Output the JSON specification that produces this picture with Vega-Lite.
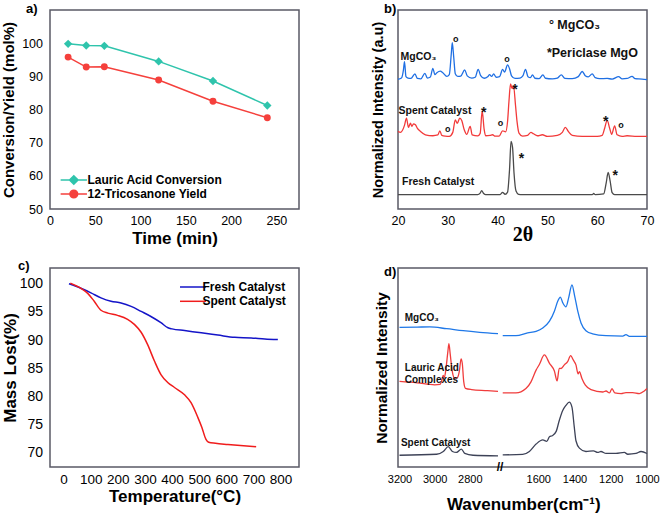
{
  "$schema": "https://vega.github.io/schema/vega-lite/v6.json",
  "autosize": {"type": "pad"},
  "padding": {"left": 0, "top": 2, "right": 2, "bottom": 2},
  "background": "white",
  "columns": 2,
  "bounds": "flush",
  "spacing": {"row": 59, "column": 99},
  "resolve": {"scale": {"color": "independent"}, "legend": {"color": "independent"}},
  "config": {
    "font": "Liberation Sans",
    "view": {"stroke": "#5a5a66", "strokeWidth": 1.5},
    "axis": {"domain": false, "grid": false, "tickWidth": 1, "ticks": true, "tickColor": "transparent", "labelColor": "#000000", "titleColor": "#000000", "titleFontWeight": "bold", "labelFont": "Liberation Sans", "titleFont": "Liberation Sans", "labelOverlap": false, "labelFlush": false},
    "tick": {"opacity": 1, "color": "#5a5a66"},
    "title": {"color": "#000000", "font": "Liberation Sans"}
  },
  "concat": [
    {
      "width": 249, "height": 199,
      "title": {"text": "a)", "anchor": "start", "frame": "group", "dx": -24, "dy": 6, "offset": 0, "fontSize": 13, "fontWeight": "bold"},
      "encoding": {
        "x": {"field": "time", "type": "quantitative", "scale": {"domain": [0, 275], "nice": false, "zero": false},
          "axis": {"title": "Time (min)", "values": [0,50,100,150,200,250],
            "tickSize": 4.5, "labelFontSize": 12.5, "labelPadding": 1, "titleFontSize": 17, "titlePadding": 3}},
        "y": {"field": "value", "type": "quantitative", "scale": {"domain": [50, 110], "nice": false, "zero": false},
          "axis": {"title": "Conversion/Yield (mol%)", "values": [50,60,70,80,90,100],
            "tickSize": 4.5, "labelFontSize": 12.5, "labelPadding": 3, "titleFontSize": 15, "titlePadding": 5}}
      },
      "layer": [
        {"data": {"values": [{"time": 0}, {"time": 50}, {"time": 100}, {"time": 150}, {"time": 200}, {"time": 250}]},
          "mark": {"type": "tick", "orient": "vertical", "size": 4.5, "thickness": 1, "yOffset": 2.25},
          "encoding": {"y": {"datum": 50, "type": "quantitative"}}},
        {"data": {"values": [{"time": 25}, {"time": 75}, {"time": 125}, {"time": 175}, {"time": 225}, {"time": 275}]},
          "mark": {"type": "tick", "orient": "vertical", "size": 2.5, "thickness": 1, "yOffset": 1.25},
          "encoding": {"y": {"datum": 50, "type": "quantitative"}}},
        {"data": {"values": [{"value": 50}, {"value": 60}, {"value": 70}, {"value": 80}, {"value": 90}, {"value": 100}]},
          "mark": {"type": "tick", "orient": "horizontal", "size": 4.5, "thickness": 1, "xOffset": -2.25},
          "encoding": {"x": {"datum": 0, "type": "quantitative"}}},
        {"data": {"values": [{"value": 55}, {"value": 65}, {"value": 75}, {"value": 85}, {"value": 95}, {"value": 105}]},
          "mark": {"type": "tick", "orient": "horizontal", "size": 2.5, "thickness": 1, "xOffset": -1.25},
          "encoding": {"x": {"datum": 0, "type": "quantitative"}}},
        {"data": {"values": [
          {"time": 20, "value": 99.8, "series": "Lauric Acid Conversion"},
          {"time": 40, "value": 99.3, "series": "Lauric Acid Conversion"},
          {"time": 60, "value": 99.2, "series": "Lauric Acid Conversion"},
          {"time": 120, "value": 94.5, "series": "Lauric Acid Conversion"},
          {"time": 180, "value": 88.6, "series": "Lauric Acid Conversion"},
          {"time": 240, "value": 81.2, "series": "Lauric Acid Conversion"},
          {"time": 20, "value": 95.8, "series": "12-Tricosanone Yield"},
          {"time": 40, "value": 92.8, "series": "12-Tricosanone Yield"},
          {"time": 60, "value": 92.9, "series": "12-Tricosanone Yield"},
          {"time": 120, "value": 88.9, "series": "12-Tricosanone Yield"},
          {"time": 180, "value": 82.5, "series": "12-Tricosanone Yield"},
          {"time": 240, "value": 77.5, "series": "12-Tricosanone Yield"}
        ]},
          "layer": [
            {"mark": {"type": "line", "strokeWidth": 1.5},
              "encoding": {"color": {"field": "series", "type": "nominal",
                "scale": {"domain": ["Lauric Acid Conversion", "12-Tricosanone Yield"], "range": ["#2fc4ac", "#f5403c"]},
                "legend": {"title": null, "orient": "none", "legendX": 17.8, "legendY": 164, "padding": 0,
                  "symbolType": "M-3.4,0H3.4M1,0A1,1,0,1,1,-1,0A1,1,0,1,1,1,0Z", "symbolSize": 60, "symbolStrokeWidth": 1.5,
                  "labelFontSize": 12, "labelFontWeight": "bold", "labelColor": "#000000", "labelOffset": 7.7, "rowPadding": -2.4,
                  "encoding": {"symbols": {
                    "shape": {"condition": {"test": "datum.value === 'Lauric Acid Conversion'", "value": "M-3.4,0H3.4M0,-1.1L1.1,0L0,1.1L-1.1,0Z"}, "value": "M-3.4,0H3.4M1,0A1,1,0,1,1,-1,0A1,1,0,1,1,1,0Z"},
                    "fill": {"condition": {"test": "datum.value === 'Lauric Acid Conversion'", "value": "#2fc4ac"}, "value": "#f5403c"},
                    "fillOpacity": {"value": 1}
                  }}}}}
            },
            {"transform": [{"filter": "datum.series === 'Lauric Acid Conversion'"}],
              "mark": {"type": "point", "shape": "diamond", "size": 70, "filled": true, "opacity": 1, "color": "#2fc4ac"}},
            {"transform": [{"filter": "datum.series === '12-Tricosanone Yield'"}],
              "mark": {"type": "point", "shape": "circle", "size": 48, "filled": true, "opacity": 1, "color": "#f5403c"}}
          ]
        }
      ]
    },
    {
      "width": 249, "height": 199,
      "title": {"text": "b)", "anchor": "start", "frame": "group", "dx": -14, "dy": 6, "offset": 0, "fontSize": 13, "fontWeight": "bold"},
      "encoding": {
        "x": {"field": "theta", "type": "quantitative", "scale": {"domain": [20, 70], "nice": false, "zero": false},
          "axis": {"title": "2θ", "values": [20,30,40,50,60,70],
            "tickSize": 4.5, "labelFontSize": 12.5, "labelPadding": 1, "titleFont": "Liberation Serif", "titleFontSize": 20, "titlePadding": -3}},
        "y": {"field": "intensity", "type": "quantitative", "scale": {"domain": [0, 100], "nice": false, "zero": false},
          "axis": {"title": "Normalized Intensity (a.u)", "ticks": false, "labels": false, "titleFontSize": 14.5, "titlePadding": 13}}
      },
      "layer": [
        {"data": {"values": [{"theta": 20}, {"theta": 30}, {"theta": 40}, {"theta": 50}, {"theta": 60}, {"theta": 70}]},
          "mark": {"type": "tick", "orient": "vertical", "size": 4.5, "thickness": 1, "yOffset": 2.25},
          "encoding": {"y": {"datum": 0, "type": "quantitative"}}},
        {"data": {"values": [{"theta": 25}, {"theta": 35}, {"theta": 45}, {"theta": 55}, {"theta": 65}]},
          "mark": {"type": "tick", "orient": "vertical", "size": 2.5, "thickness": 1, "yOffset": 1.25},
          "encoding": {"y": {"datum": 0, "type": "quantitative"}}},
        {"data": {"values": [
          {"theta": 20, "intensity": 7.2, "sample": "Fresh"},
          {"theta": 36, "intensity": 7.2, "sample": "Fresh"},
          {"theta": 36.5, "intensity": 8, "sample": "Fresh"},
          {"theta": 36.8, "intensity": 9.2, "sample": "Fresh"},
          {"theta": 37.2, "intensity": 7.8, "sample": "Fresh"},
          {"theta": 37.6, "intensity": 7.2, "sample": "Fresh"},
          {"theta": 40.5, "intensity": 7.2, "sample": "Fresh"},
          {"theta": 41, "intensity": 8.4, "sample": "Fresh"},
          {"theta": 41.5, "intensity": 7.4, "sample": "Fresh"},
          {"theta": 42, "intensity": 8.5, "sample": "Fresh"},
          {"theta": 42.4, "intensity": 20, "sample": "Fresh"},
          {"theta": 42.7, "intensity": 34, "sample": "Fresh"},
          {"theta": 43.0, "intensity": 31, "sample": "Fresh"},
          {"theta": 43.3, "intensity": 18, "sample": "Fresh"},
          {"theta": 43.7, "intensity": 9, "sample": "Fresh"},
          {"theta": 44.2, "intensity": 7.4, "sample": "Fresh"},
          {"theta": 45, "intensity": 7.2, "sample": "Fresh"},
          {"theta": 59, "intensity": 7.2, "sample": "Fresh"},
          {"theta": 59.3, "intensity": 7.8, "sample": "Fresh"},
          {"theta": 59.6, "intensity": 7.2, "sample": "Fresh"},
          {"theta": 61.3, "intensity": 7.6, "sample": "Fresh"},
          {"theta": 61.8, "intensity": 13, "sample": "Fresh"},
          {"theta": 62.2, "intensity": 18.4, "sample": "Fresh"},
          {"theta": 62.6, "intensity": 14, "sample": "Fresh"},
          {"theta": 63.0, "intensity": 8.2, "sample": "Fresh"},
          {"theta": 63.5, "intensity": 7.2, "sample": "Fresh"},
          {"theta": 70, "intensity": 7.2, "sample": "Fresh"},
          {"theta": 20, "intensity": 39, "sample": "Spent"},
          {"theta": 20.5, "intensity": 38.5, "sample": "Spent"},
          {"theta": 21.3, "intensity": 42, "sample": "Spent"},
          {"theta": 21.7, "intensity": 45.7, "sample": "Spent"},
          {"theta": 22.1, "intensity": 41, "sample": "Spent"},
          {"theta": 22.5, "intensity": 43.1, "sample": "Spent"},
          {"theta": 22.8, "intensity": 41.5, "sample": "Spent"},
          {"theta": 23.1, "intensity": 42.8, "sample": "Spent"},
          {"theta": 23.5, "intensity": 42.3, "sample": "Spent"},
          {"theta": 23.9, "intensity": 40.5, "sample": "Spent"},
          {"theta": 24.5, "intensity": 39, "sample": "Spent"},
          {"theta": 25.5, "intensity": 37.3, "sample": "Spent"},
          {"theta": 27, "intensity": 36.8, "sample": "Spent"},
          {"theta": 28, "intensity": 37.2, "sample": "Spent"},
          {"theta": 28.4, "intensity": 39.3, "sample": "Spent"},
          {"theta": 28.8, "intensity": 37, "sample": "Spent"},
          {"theta": 29.5, "intensity": 36.6, "sample": "Spent"},
          {"theta": 30.3, "intensity": 36.5, "sample": "Spent"},
          {"theta": 31, "intensity": 38.5, "sample": "Spent"},
          {"theta": 31.5, "intensity": 44.8, "sample": "Spent"},
          {"theta": 31.9, "intensity": 43, "sample": "Spent"},
          {"theta": 32.4, "intensity": 45.7, "sample": "Spent"},
          {"theta": 32.8, "intensity": 44.5, "sample": "Spent"},
          {"theta": 33.3, "intensity": 39.8, "sample": "Spent"},
          {"theta": 33.8, "intensity": 37.5, "sample": "Spent"},
          {"theta": 34.5, "intensity": 41.5, "sample": "Spent"},
          {"theta": 34.9, "intensity": 37.2, "sample": "Spent"},
          {"theta": 36, "intensity": 36.7, "sample": "Spent"},
          {"theta": 36.5, "intensity": 38, "sample": "Spent"},
          {"theta": 36.9, "intensity": 49.3, "sample": "Spent"},
          {"theta": 37.3, "intensity": 40, "sample": "Spent"},
          {"theta": 37.6, "intensity": 36.8, "sample": "Spent"},
          {"theta": 38.5, "intensity": 37, "sample": "Spent"},
          {"theta": 39, "intensity": 37.3, "sample": "Spent"},
          {"theta": 39.5, "intensity": 36.6, "sample": "Spent"},
          {"theta": 40.3, "intensity": 36.6, "sample": "Spent"},
          {"theta": 41, "intensity": 39.3, "sample": "Spent"},
          {"theta": 41.6, "intensity": 38.8, "sample": "Spent"},
          {"theta": 42, "intensity": 44, "sample": "Spent"},
          {"theta": 42.3, "intensity": 54.8, "sample": "Spent"},
          {"theta": 42.6, "intensity": 62.9, "sample": "Spent"},
          {"theta": 42.9, "intensity": 60.5, "sample": "Spent"},
          {"theta": 43.2, "intensity": 61.9, "sample": "Spent"},
          {"theta": 43.6, "intensity": 52, "sample": "Spent"},
          {"theta": 43.9, "intensity": 44, "sample": "Spent"},
          {"theta": 44.3, "intensity": 38.1, "sample": "Spent"},
          {"theta": 45, "intensity": 36.6, "sample": "Spent"},
          {"theta": 46, "intensity": 37, "sample": "Spent"},
          {"theta": 46.7, "intensity": 38.5, "sample": "Spent"},
          {"theta": 47.2, "intensity": 37.8, "sample": "Spent"},
          {"theta": 48, "intensity": 36.8, "sample": "Spent"},
          {"theta": 49, "intensity": 37.3, "sample": "Spent"},
          {"theta": 50, "intensity": 36.5, "sample": "Spent"},
          {"theta": 52, "intensity": 37, "sample": "Spent"},
          {"theta": 53, "intensity": 38.5, "sample": "Spent"},
          {"theta": 53.6, "intensity": 41, "sample": "Spent"},
          {"theta": 54.2, "intensity": 39, "sample": "Spent"},
          {"theta": 55, "intensity": 37, "sample": "Spent"},
          {"theta": 57, "intensity": 36.5, "sample": "Spent"},
          {"theta": 60, "intensity": 36.5, "sample": "Spent"},
          {"theta": 61, "intensity": 37, "sample": "Spent"},
          {"theta": 61.5, "intensity": 40.6, "sample": "Spent"},
          {"theta": 62, "intensity": 44.5, "sample": "Spent"},
          {"theta": 62.5, "intensity": 40.6, "sample": "Spent"},
          {"theta": 62.9, "intensity": 37.5, "sample": "Spent"},
          {"theta": 63.5, "intensity": 41.8, "sample": "Spent"},
          {"theta": 64, "intensity": 37.3, "sample": "Spent"},
          {"theta": 65, "intensity": 36.5, "sample": "Spent"},
          {"theta": 66, "intensity": 36.8, "sample": "Spent"},
          {"theta": 68, "intensity": 36.5, "sample": "Spent"},
          {"theta": 70, "intensity": 36.5, "sample": "Spent"},
          {"theta": 20, "intensity": 65.2, "sample": "MgCO3"},
          {"theta": 20.7, "intensity": 65.8, "sample": "MgCO3"},
          {"theta": 21.1, "intensity": 70, "sample": "MgCO3"},
          {"theta": 21.3, "intensity": 74.1, "sample": "MgCO3"},
          {"theta": 21.6, "intensity": 66.5, "sample": "MgCO3"},
          {"theta": 22, "intensity": 65.8, "sample": "MgCO3"},
          {"theta": 22.6, "intensity": 65.6, "sample": "MgCO3"},
          {"theta": 23.4, "intensity": 67.9, "sample": "MgCO3"},
          {"theta": 23.9, "intensity": 65.6, "sample": "MgCO3"},
          {"theta": 24.6, "intensity": 65.4, "sample": "MgCO3"},
          {"theta": 25.4, "intensity": 68.2, "sample": "MgCO3"},
          {"theta": 25.9, "intensity": 65.8, "sample": "MgCO3"},
          {"theta": 26.5, "intensity": 66.3, "sample": "MgCO3"},
          {"theta": 27, "intensity": 70.7, "sample": "MgCO3"},
          {"theta": 27.4, "intensity": 67.5, "sample": "MgCO3"},
          {"theta": 27.8, "intensity": 68.5, "sample": "MgCO3"},
          {"theta": 28.5, "intensity": 69.3, "sample": "MgCO3"},
          {"theta": 29, "intensity": 68.5, "sample": "MgCO3"},
          {"theta": 29.8, "intensity": 66.6, "sample": "MgCO3"},
          {"theta": 30.3, "intensity": 67.5, "sample": "MgCO3"},
          {"theta": 30.7, "intensity": 78, "sample": "MgCO3"},
          {"theta": 30.9, "intensity": 83.6, "sample": "MgCO3"},
          {"theta": 31.2, "intensity": 76, "sample": "MgCO3"},
          {"theta": 31.5, "intensity": 68, "sample": "MgCO3"},
          {"theta": 32, "intensity": 66.6, "sample": "MgCO3"},
          {"theta": 32.6, "intensity": 66.8, "sample": "MgCO3"},
          {"theta": 33.4, "intensity": 69.9, "sample": "MgCO3"},
          {"theta": 33.9, "intensity": 66.9, "sample": "MgCO3"},
          {"theta": 34.8, "intensity": 65.8, "sample": "MgCO3"},
          {"theta": 35.5, "intensity": 66.2, "sample": "MgCO3"},
          {"theta": 36.1, "intensity": 70.2, "sample": "MgCO3"},
          {"theta": 36.6, "intensity": 67, "sample": "MgCO3"},
          {"theta": 37.3, "intensity": 65.7, "sample": "MgCO3"},
          {"theta": 38, "intensity": 66.4, "sample": "MgCO3"},
          {"theta": 38.4, "intensity": 67.5, "sample": "MgCO3"},
          {"theta": 38.8, "intensity": 66.6, "sample": "MgCO3"},
          {"theta": 39.2, "intensity": 67.9, "sample": "MgCO3"},
          {"theta": 39.7, "intensity": 66.2, "sample": "MgCO3"},
          {"theta": 40.4, "intensity": 66.5, "sample": "MgCO3"},
          {"theta": 41, "intensity": 70.2, "sample": "MgCO3"},
          {"theta": 41.4, "intensity": 68.8, "sample": "MgCO3"},
          {"theta": 42, "intensity": 72.4, "sample": "MgCO3"},
          {"theta": 42.4, "intensity": 70.5, "sample": "MgCO3"},
          {"theta": 42.8, "intensity": 66.9, "sample": "MgCO3"},
          {"theta": 43.5, "intensity": 65.6, "sample": "MgCO3"},
          {"theta": 44.5, "intensity": 65.8, "sample": "MgCO3"},
          {"theta": 45.1, "intensity": 67, "sample": "MgCO3"},
          {"theta": 45.6, "intensity": 70.2, "sample": "MgCO3"},
          {"theta": 46.1, "intensity": 66.5, "sample": "MgCO3"},
          {"theta": 46.6, "intensity": 66, "sample": "MgCO3"},
          {"theta": 47, "intensity": 67.4, "sample": "MgCO3"},
          {"theta": 47.5, "intensity": 65.7, "sample": "MgCO3"},
          {"theta": 48.3, "intensity": 65.5, "sample": "MgCO3"},
          {"theta": 49.1, "intensity": 67.4, "sample": "MgCO3"},
          {"theta": 49.6, "intensity": 65.7, "sample": "MgCO3"},
          {"theta": 51, "intensity": 65.4, "sample": "MgCO3"},
          {"theta": 52, "intensity": 65.8, "sample": "MgCO3"},
          {"theta": 52.8, "intensity": 67.4, "sample": "MgCO3"},
          {"theta": 53.5, "intensity": 65.6, "sample": "MgCO3"},
          {"theta": 55, "intensity": 65.5, "sample": "MgCO3"},
          {"theta": 56.2, "intensity": 66.5, "sample": "MgCO3"},
          {"theta": 57, "intensity": 69.1, "sample": "MgCO3"},
          {"theta": 57.6, "intensity": 67, "sample": "MgCO3"},
          {"theta": 58.2, "intensity": 66.4, "sample": "MgCO3"},
          {"theta": 59, "intensity": 67.9, "sample": "MgCO3"},
          {"theta": 59.6, "intensity": 66, "sample": "MgCO3"},
          {"theta": 60.5, "intensity": 65.5, "sample": "MgCO3"},
          {"theta": 62, "intensity": 65.6, "sample": "MgCO3"},
          {"theta": 63, "intensity": 65.3, "sample": "MgCO3"},
          {"theta": 64.3, "intensity": 66.5, "sample": "MgCO3"},
          {"theta": 65, "intensity": 65.4, "sample": "MgCO3"},
          {"theta": 66, "intensity": 65.6, "sample": "MgCO3"},
          {"theta": 67, "intensity": 66.6, "sample": "MgCO3"},
          {"theta": 67.6, "intensity": 65.5, "sample": "MgCO3"},
          {"theta": 69, "intensity": 65.3, "sample": "MgCO3"},
          {"theta": 70, "intensity": 65, "sample": "MgCO3"}
        ]},
          "mark": {"type": "line", "strokeWidth": 1.3, "interpolate": "monotone"},
          "encoding": {"color": {"field": "sample", "type": "nominal", "scale": {"domain": ["MgCO3", "Spent", "Fresh"], "range": ["#1f6fe3", "#f23a3a", "#4a4a4a"]}, "legend": null}}
        },
        {"data": {"values": [
          {"theta": 20.5, "intensity": 76.6, "label": "MgCO₃"},
          {"theta": 20.1, "intensity": 49, "label": "Spent Catalyst"},
          {"theta": 20.8, "intensity": 13.4, "label": "Fresh Catalyst"}
        ]},
          "mark": {"type": "text", "fontSize": 10.5, "fontWeight": "bold", "align": "left", "baseline": "middle", "color": "#111111"},
          "encoding": {"text": {"field": "label"}}
        },
        {"data": {"values": [
          {"theta": 50.3, "intensity": 92.5, "label": "° MgCO₃"},
          {"theta": 49.9, "intensity": 78.6, "label": "*Periclase MgO"}
        ]},
          "mark": {"type": "text", "fontSize": 12.5, "fontWeight": "bold", "align": "left", "baseline": "middle", "color": "#111111"},
          "encoding": {"text": {"field": "label"}}
        },
        {"data": {"values": [
          {"theta": 31.6, "intensity": 84.9, "label": "o"},
          {"theta": 41.9, "intensity": 74.9, "label": "o"},
          {"theta": 30.0, "intensity": 39.8, "label": "o"},
          {"theta": 40.6, "intensity": 42.8, "label": "o"},
          {"theta": 64.8, "intensity": 41.8, "label": "o"}
        ]},
          "mark": {"type": "text", "fontSize": 9, "fontWeight": "bold", "align": "center", "baseline": "middle", "dy": -1, "color": "#111111"},
          "encoding": {"text": {"field": "label"}}
        },
        {"data": {"values": [
          {"theta": 37.2, "intensity": 49.8, "label": "*"},
          {"theta": 43.5, "intensity": 61.2, "label": "*"},
          {"theta": 61.7, "intensity": 45.2, "label": "*"},
          {"theta": 44.8, "intensity": 26.4, "label": "*"},
          {"theta": 63.6, "intensity": 18.1, "label": "*"}
        ]},
          "mark": {"type": "text", "fontSize": 14, "fontWeight": "bold", "align": "center", "baseline": "middle", "dy": 3, "color": "#111111"},
          "encoding": {"text": {"field": "label"}}
        }
      ]
    },
    {
      "width": 249, "height": 199,
      "title": {"text": "c)", "anchor": "start", "frame": "group", "dx": -32, "dy": 5, "offset": 0, "fontSize": 13, "fontWeight": "bold"},
      "encoding": {
        "x": {"field": "temp", "type": "quantitative", "scale": {"domain": [-50, 868], "nice": false, "zero": false},
          "axis": {"title": "Temperature(°C)", "values": [0,100,200,300,400,500,600,700,800],
            "tickSize": 4.5, "labelFontSize": 13.5, "labelPadding": 1, "titleFontSize": 17, "titlePadding": 2}},
        "y": {"field": "mass", "type": "quantitative", "scale": {"domain": [67.5, 102.8], "nice": false, "zero": false},
          "axis": {"title": "Mass Lost(%)", "values": [70,75,80,85,90,95,100], "tickSize": 4.5,
            "labelFontSize": 14, "labelPadding": 3, "titleFontSize": 17, "titlePadding": 0}}
      },
      "layer": [
        {"data": {"values": [{"temp": 0}, {"temp": 100}, {"temp": 200}, {"temp": 300}, {"temp": 400}, {"temp": 500}, {"temp": 600}, {"temp": 700}, {"temp": 800}]},
          "mark": {"type": "tick", "orient": "vertical", "size": 4.5, "thickness": 1, "yOffset": 2.25},
          "encoding": {"y": {"datum": 67.5, "type": "quantitative"}}},
        {"data": {"values": [{"temp": 50}, {"temp": 150}, {"temp": 250}, {"temp": 350}, {"temp": 450}, {"temp": 550}, {"temp": 650}, {"temp": 750}, {"temp": 850}]},
          "mark": {"type": "tick", "orient": "vertical", "size": 2.5, "thickness": 1, "yOffset": 1.25},
          "encoding": {"y": {"datum": 67.5, "type": "quantitative"}}},
        {"data": {"values": [{"mass": 70}, {"mass": 75}, {"mass": 80}, {"mass": 85}, {"mass": 90}, {"mass": 95}, {"mass": 100}]},
          "mark": {"type": "tick", "orient": "horizontal", "size": 4.5, "thickness": 1, "xOffset": -2.25},
          "encoding": {"x": {"datum": -50, "type": "quantitative"}}},
        {"data": {"values": [
          {"temp": 20, "mass": 100, "sample": "Fresh Catalyst"},
          {"temp": 64, "mass": 99.2, "sample": "Fresh Catalyst"},
          {"temp": 101, "mass": 98.4, "sample": "Fresh Catalyst"},
          {"temp": 138, "mass": 97.5, "sample": "Fresh Catalyst"},
          {"temp": 175, "mass": 96.9, "sample": "Fresh Catalyst"},
          {"temp": 212, "mass": 96.6, "sample": "Fresh Catalyst"},
          {"temp": 249, "mass": 96.0, "sample": "Fresh Catalyst"},
          {"temp": 286, "mass": 95.1, "sample": "Fresh Catalyst"},
          {"temp": 322, "mass": 94.2, "sample": "Fresh Catalyst"},
          {"temp": 359, "mass": 93.1, "sample": "Fresh Catalyst"},
          {"temp": 385, "mass": 92.2, "sample": "Fresh Catalyst"},
          {"temp": 400, "mass": 92.0, "sample": "Fresh Catalyst"},
          {"temp": 446, "mass": 91.7, "sample": "Fresh Catalyst"},
          {"temp": 508, "mass": 91.3, "sample": "Fresh Catalyst"},
          {"temp": 569, "mass": 90.9, "sample": "Fresh Catalyst"},
          {"temp": 631, "mass": 90.5, "sample": "Fresh Catalyst"},
          {"temp": 692, "mass": 90.4, "sample": "Fresh Catalyst"},
          {"temp": 742, "mass": 90.2, "sample": "Fresh Catalyst"},
          {"temp": 790, "mass": 90.1, "sample": "Fresh Catalyst"},
          {"temp": 25, "mass": 100.1, "sample": "Spent Catalyst"},
          {"temp": 64, "mass": 99.2, "sample": "Spent Catalyst"},
          {"temp": 89, "mass": 98.3, "sample": "Spent Catalyst"},
          {"temp": 113, "mass": 96.9, "sample": "Spent Catalyst"},
          {"temp": 138, "mass": 95.3, "sample": "Spent Catalyst"},
          {"temp": 163, "mass": 94.8, "sample": "Spent Catalyst"},
          {"temp": 199, "mass": 94.4, "sample": "Spent Catalyst"},
          {"temp": 236, "mass": 93.7, "sample": "Spent Catalyst"},
          {"temp": 261, "mass": 92.8, "sample": "Spent Catalyst"},
          {"temp": 286, "mass": 91.4, "sample": "Spent Catalyst"},
          {"temp": 310, "mass": 89.2, "sample": "Spent Catalyst"},
          {"temp": 335, "mass": 86.3, "sample": "Spent Catalyst"},
          {"temp": 359, "mass": 83.9, "sample": "Spent Catalyst"},
          {"temp": 384, "mass": 82.5, "sample": "Spent Catalyst"},
          {"temp": 409, "mass": 81.6, "sample": "Spent Catalyst"},
          {"temp": 446, "mass": 80.3, "sample": "Spent Catalyst"},
          {"temp": 470, "mass": 78.9, "sample": "Spent Catalyst"},
          {"temp": 495, "mass": 76.3, "sample": "Spent Catalyst"},
          {"temp": 510, "mass": 74.5, "sample": "Spent Catalyst"},
          {"temp": 525, "mass": 72.4, "sample": "Spent Catalyst"},
          {"temp": 535, "mass": 71.9, "sample": "Spent Catalyst"},
          {"temp": 560, "mass": 71.7, "sample": "Spent Catalyst"},
          {"temp": 606, "mass": 71.5, "sample": "Spent Catalyst"},
          {"temp": 710, "mass": 71.1, "sample": "Spent Catalyst"}
        ]},
          "mark": {"type": "line", "strokeWidth": 1.5, "interpolate": "monotone"},
          "encoding": {
            "color": {"field": "sample", "type": "nominal",
              "scale": {"domain": ["Fresh Catalyst", "Spent Catalyst"], "range": ["#1414c8", "#f01c1c"]},
              "legend": {"title": null, "orient": "none", "legendX": 137, "legendY": 13, "padding": 0,
                "symbolType": "M-3,0H3", "symbolSize": 75, "symbolStrokeWidth": 1.5,
                "labelFontSize": 12, "labelFontWeight": "bold", "labelColor": "#000000", "labelOffset": 3.5, "rowPadding": 2.3}}
          }
        }
      ]
    },
    {
      "width": 249, "height": 199,
      "title": {"text": "d)", "anchor": "start", "frame": "group", "dx": -14, "dy": 11, "offset": 0, "fontSize": 13, "fontWeight": "bold"},
      "encoding": {
        "x": {"field": "w", "type": "quantitative",
          "scale": {"domain": [3200, 2640, 1800, 1000], "range": [1.5, 100, 104, 249], "nice": false, "zero": false},
          "axis": {"title": "Wavenumber(cm⁻¹)", "format": "d",
            "values": [3200,3000,2800,1600,1400,1200,1000],
            "tickSize": 4.5, "labelFontSize": 11, "labelPadding": 2, "titleFontSize": 17, "titlePadding": 12}},
        "y": {"field": "y", "type": "quantitative", "scale": {"domain": [0, 100], "nice": false, "zero": false},
          "axis": {"title": "Normalized Intensity", "ticks": false, "labels": false, "titleFontSize": 15.5, "titlePadding": 9}}
      },
      "layer": [
        {"data": {"values": [{"w": 3200}, {"w": 3000}, {"w": 2800}, {"w": 1800}, {"w": 1600}, {"w": 1400}, {"w": 1200}, {"w": 1000}]},
          "mark": {"type": "tick", "orient": "vertical", "size": 4.5, "thickness": 1, "yOffset": 2.25},
          "encoding": {"y": {"datum": 0, "type": "quantitative"}}},
        {"data": {"values": [{"w": 3100}, {"w": 2900}, {"w": 2700}, {"w": 1700}, {"w": 1500}, {"w": 1300}, {"w": 1100}]},
          "mark": {"type": "tick", "orient": "vertical", "size": 2.5, "thickness": 1, "yOffset": 1.25},
          "encoding": {"y": {"datum": 0, "type": "quantitative"}}},
        {"data": {"values": [
          {"w": 3200, "y": 70.2, "sample": "MgCO3", "part": "high"},
          {"w": 3100, "y": 70.3, "sample": "MgCO3", "part": "high"},
          {"w": 3027, "y": 70.4, "sample": "MgCO3", "part": "high"},
          {"w": 2932, "y": 69.5, "sample": "MgCO3", "part": "high"},
          {"w": 2838, "y": 68.5, "sample": "MgCO3", "part": "high"},
          {"w": 2744, "y": 67.7, "sample": "MgCO3", "part": "high"},
          {"w": 2640, "y": 67.0, "sample": "MgCO3", "part": "high"},
          {"w": 1796, "y": 66.0, "sample": "MgCO3", "part": "low"},
          {"w": 1723, "y": 66.0, "sample": "MgCO3", "part": "low"},
          {"w": 1658, "y": 67.4, "sample": "MgCO3", "part": "low"},
          {"w": 1612, "y": 68.2, "sample": "MgCO3", "part": "low"},
          {"w": 1575, "y": 69.9, "sample": "MgCO3", "part": "low"},
          {"w": 1538, "y": 73.3, "sample": "MgCO3", "part": "low"},
          {"w": 1511, "y": 78.3, "sample": "MgCO3", "part": "low"},
          {"w": 1492, "y": 83.4, "sample": "MgCO3", "part": "low"},
          {"w": 1478, "y": 85.4, "sample": "MgCO3", "part": "low"},
          {"w": 1465, "y": 82.6, "sample": "MgCO3", "part": "low"},
          {"w": 1447, "y": 80.5, "sample": "MgCO3", "part": "low"},
          {"w": 1432, "y": 85.1, "sample": "MgCO3", "part": "low"},
          {"w": 1414, "y": 91.5, "sample": "MgCO3", "part": "low"},
          {"w": 1399, "y": 85.9, "sample": "MgCO3", "part": "low"},
          {"w": 1382, "y": 78.3, "sample": "MgCO3", "part": "low"},
          {"w": 1364, "y": 72.4, "sample": "MgCO3", "part": "low"},
          {"w": 1337, "y": 68.5, "sample": "MgCO3", "part": "low"},
          {"w": 1300, "y": 66.9, "sample": "MgCO3", "part": "low"},
          {"w": 1226, "y": 66.0, "sample": "MgCO3", "part": "low"},
          {"w": 1134, "y": 65.8, "sample": "MgCO3", "part": "low"},
          {"w": 1116, "y": 66.5, "sample": "MgCO3", "part": "low"},
          {"w": 1097, "y": 65.6, "sample": "MgCO3", "part": "low"},
          {"w": 1000, "y": 65.6, "sample": "MgCO3", "part": "low"},
          {"w": 3200, "y": 43.0, "sample": "Lauric", "part": "high"},
          {"w": 3100, "y": 42.3, "sample": "Lauric", "part": "high"},
          {"w": 3000, "y": 41.3, "sample": "Lauric", "part": "high"},
          {"w": 2970, "y": 41.5, "sample": "Lauric", "part": "high"},
          {"w": 2958, "y": 44, "sample": "Lauric", "part": "high"},
          {"w": 2952, "y": 46, "sample": "Lauric", "part": "high"},
          {"w": 2945, "y": 45, "sample": "Lauric", "part": "high"},
          {"w": 2935, "y": 50, "sample": "Lauric", "part": "high"},
          {"w": 2925, "y": 58, "sample": "Lauric", "part": "high"},
          {"w": 2919, "y": 62, "sample": "Lauric", "part": "high"},
          {"w": 2912, "y": 57, "sample": "Lauric", "part": "high"},
          {"w": 2900, "y": 48, "sample": "Lauric", "part": "high"},
          {"w": 2886, "y": 44.5, "sample": "Lauric", "part": "high"},
          {"w": 2870, "y": 45, "sample": "Lauric", "part": "high"},
          {"w": 2860, "y": 48, "sample": "Lauric", "part": "high"},
          {"w": 2850, "y": 54.3, "sample": "Lauric", "part": "high"},
          {"w": 2843, "y": 52, "sample": "Lauric", "part": "high"},
          {"w": 2835, "y": 43, "sample": "Lauric", "part": "high"},
          {"w": 2825, "y": 39.5, "sample": "Lauric", "part": "high"},
          {"w": 2790, "y": 38.9, "sample": "Lauric", "part": "high"},
          {"w": 2700, "y": 38.4, "sample": "Lauric", "part": "high"},
          {"w": 2640, "y": 38.0, "sample": "Lauric", "part": "high"},
          {"w": 1796, "y": 37.2, "sample": "Lauric", "part": "low"},
          {"w": 1723, "y": 37.2, "sample": "Lauric", "part": "low"},
          {"w": 1668, "y": 39.4, "sample": "Lauric", "part": "low"},
          {"w": 1640, "y": 42.8, "sample": "Lauric", "part": "low"},
          {"w": 1612, "y": 48.7, "sample": "Lauric", "part": "low"},
          {"w": 1594, "y": 51.5, "sample": "Lauric", "part": "low"},
          {"w": 1566, "y": 56.3, "sample": "Lauric", "part": "low"},
          {"w": 1538, "y": 52.1, "sample": "Lauric", "part": "low"},
          {"w": 1511, "y": 48.2, "sample": "Lauric", "part": "low"},
          {"w": 1496, "y": 43.3, "sample": "Lauric", "part": "low"},
          {"w": 1484, "y": 49.6, "sample": "Lauric", "part": "low"},
          {"w": 1474, "y": 49.5, "sample": "Lauric", "part": "low"},
          {"w": 1456, "y": 51.3, "sample": "Lauric", "part": "low"},
          {"w": 1438, "y": 52.9, "sample": "Lauric", "part": "low"},
          {"w": 1421, "y": 56.0, "sample": "Lauric", "part": "low"},
          {"w": 1407, "y": 53.8, "sample": "Lauric", "part": "low"},
          {"w": 1392, "y": 51.3, "sample": "Lauric", "part": "low"},
          {"w": 1380, "y": 46.8, "sample": "Lauric", "part": "low"},
          {"w": 1373, "y": 47.9, "sample": "Lauric", "part": "low"},
          {"w": 1359, "y": 44.5, "sample": "Lauric", "part": "low"},
          {"w": 1340, "y": 41.1, "sample": "Lauric", "part": "low"},
          {"w": 1309, "y": 38.9, "sample": "Lauric", "part": "low"},
          {"w": 1244, "y": 37.7, "sample": "Lauric", "part": "low"},
          {"w": 1226, "y": 38.2, "sample": "Lauric", "part": "low"},
          {"w": 1207, "y": 37.2, "sample": "Lauric", "part": "low"},
          {"w": 1193, "y": 39.4, "sample": "Lauric", "part": "low"},
          {"w": 1178, "y": 37.2, "sample": "Lauric", "part": "low"},
          {"w": 1143, "y": 36.9, "sample": "Lauric", "part": "low"},
          {"w": 1116, "y": 37.4, "sample": "Lauric", "part": "low"},
          {"w": 1079, "y": 37.4, "sample": "Lauric", "part": "low"},
          {"w": 1042, "y": 36.9, "sample": "Lauric", "part": "low"},
          {"w": 1015, "y": 38.2, "sample": "Lauric", "part": "low"},
          {"w": 1000, "y": 39.4, "sample": "Lauric", "part": "low"},
          {"w": 3200, "y": 5.9, "sample": "Spent", "part": "high"},
          {"w": 2989, "y": 6.4, "sample": "Spent", "part": "high"},
          {"w": 2951, "y": 7.8, "sample": "Spent", "part": "high"},
          {"w": 2923, "y": 10.2, "sample": "Spent", "part": "high"},
          {"w": 2899, "y": 7.8, "sample": "Spent", "part": "high"},
          {"w": 2876, "y": 7.3, "sample": "Spent", "part": "high"},
          {"w": 2848, "y": 9.0, "sample": "Spent", "part": "high"},
          {"w": 2829, "y": 6.8, "sample": "Spent", "part": "high"},
          {"w": 2782, "y": 5.9, "sample": "Spent", "part": "high"},
          {"w": 2640, "y": 5.6, "sample": "Spent", "part": "high"},
          {"w": 1796, "y": 6.1, "sample": "Spent", "part": "low"},
          {"w": 1686, "y": 6.3, "sample": "Spent", "part": "low"},
          {"w": 1649, "y": 7.8, "sample": "Spent", "part": "low"},
          {"w": 1612, "y": 11.5, "sample": "Spent", "part": "low"},
          {"w": 1575, "y": 13.6, "sample": "Spent", "part": "low"},
          {"w": 1553, "y": 12.9, "sample": "Spent", "part": "low"},
          {"w": 1538, "y": 15.2, "sample": "Spent", "part": "low"},
          {"w": 1523, "y": 15.7, "sample": "Spent", "part": "low"},
          {"w": 1501, "y": 17.9, "sample": "Spent", "part": "low"},
          {"w": 1484, "y": 23.4, "sample": "Spent", "part": "low"},
          {"w": 1465, "y": 28.4, "sample": "Spent", "part": "low"},
          {"w": 1447, "y": 31.0, "sample": "Spent", "part": "low"},
          {"w": 1429, "y": 32.6, "sample": "Spent", "part": "low"},
          {"w": 1414, "y": 30.1, "sample": "Spent", "part": "low"},
          {"w": 1401, "y": 19.9, "sample": "Spent", "part": "low"},
          {"w": 1392, "y": 13.2, "sample": "Spent", "part": "low"},
          {"w": 1373, "y": 9.5, "sample": "Spent", "part": "low"},
          {"w": 1337, "y": 7.8, "sample": "Spent", "part": "low"},
          {"w": 1296, "y": 8.1, "sample": "Spent", "part": "low"},
          {"w": 1272, "y": 7.3, "sample": "Spent", "part": "low"},
          {"w": 1254, "y": 7.8, "sample": "Spent", "part": "low"},
          {"w": 1226, "y": 6.8, "sample": "Spent", "part": "low"},
          {"w": 1171, "y": 6.8, "sample": "Spent", "part": "low"},
          {"w": 1125, "y": 7.3, "sample": "Spent", "part": "low"},
          {"w": 1106, "y": 6.4, "sample": "Spent", "part": "low"},
          {"w": 1061, "y": 6.8, "sample": "Spent", "part": "low"},
          {"w": 1033, "y": 7.8, "sample": "Spent", "part": "low"},
          {"w": 1000, "y": 6.8, "sample": "Spent", "part": "low"}
        ]},
          "mark": {"type": "line", "strokeWidth": 1.3, "interpolate": "monotone"},
          "encoding": {
            "color": {"field": "sample", "type": "nominal", "scale": {"domain": ["MgCO3", "Lauric", "Spent"], "range": ["#1f78e8", "#f03c3c", "#3d4257"]}, "legend": null},
            "detail": {"field": "part", "type": "nominal"}
          }
        },
        {"data": {"values": [
          {"w": 3170, "y": 75.1, "label": "MgCO₃"},
          {"w": 3170, "y": 49.9, "label": "Lauric Acid"},
          {"w": 3170, "y": 43.7, "label": "Complexes"},
          {"w": 3192, "y": 12.3, "label": "Spent Catalyst"}
        ]},
          "mark": {"type": "text", "fontSize": 10, "fontWeight": "bold", "align": "left", "baseline": "middle", "color": "#111111"},
          "encoding": {"text": {"field": "label"}}
        },
        {"data": {"values": [
          {"w": 2220, "y": 0, "label": "//"}
        ]},
          "mark": {"type": "text", "fontSize": 12, "fontWeight": "bold", "align": "center", "baseline": "middle", "color": "#000000"},
          "encoding": {"text": {"field": "label"}}
        }
      ]
    }
  ]
}
